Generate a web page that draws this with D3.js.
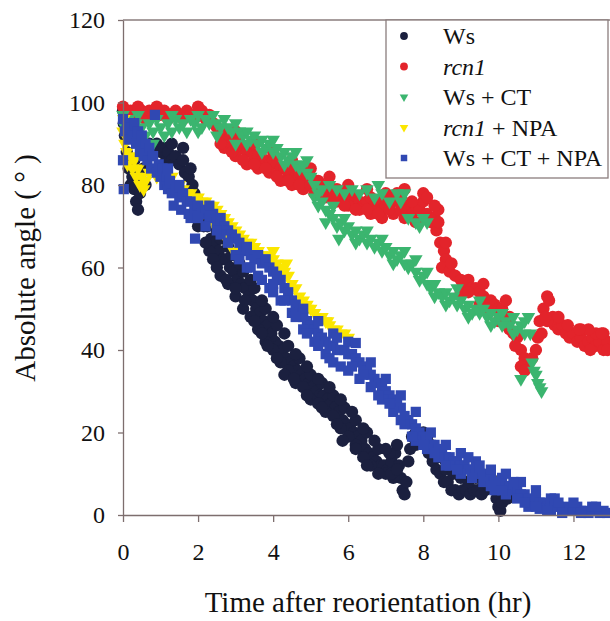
<!DOCTYPE html>
<html>
<head>
<meta charset="utf-8">
<script src="https://cdn.jsdelivr.net/npm/d3@7"></script>
<style>
    html, body { margin: 0; padding: 0; background: #fff; }
    svg, svg text { font-family: "Liberation Serif", "Times New Roman", serif; }
    svg { display: block; }
    .axis path, .axis line { stroke: #7d6e6e; stroke-width: 1.3; }
</style>
</head>
<body>
<svg id="chart" width="610" height="621"></svg>
<script>
/* ---------- Data (hours, degrees) ---------- */
const seriesNames = ["Ws", "rcn1", "Ws + CT", "rcn1 + NPA", "Ws + CT + NPA"];
const xTicks = [0, 2, 4, 6, 8, 10, 12];
const yTicks = [0, 20, 40, 60, 80, 100, 120];

const wsPoints = [
    [0.0,98],[0.02,95],[0.05,92],[0.1,88],[0.15,84],[0.2,80],[0.25,82],[0.3,86],[0.3,79],[0.35,76],
    [0.4,74],[0.45,78],[0.5,81],[0.55,84],[0.6,80],[0.65,87],[0.7,90],[0.8,88],[0.9,90],[1.0,88],
    [1.1,89],[1.15,86],[1.2,88],[1.3,86],[1.4,87],[1.5,85],[1.6,86],[1.65,83],[1.75,82],[1.85,80],
    [1.9,78],[2.0,76],[2.1,73],[2.15,70],[2.25,70],[2.35,67],[2.45,66],[2.55,64],[2.65,62],[2.75,62],
    [2.85,60],[2.95,59],[3.05,57],[3.15,56],[3.25,55],[3.35,53],[3.45,52],[3.55,50],[3.65,49],[3.75,47],
    [3.85,46],[3.95,44],[4.05,42],[4.15,41],[4.25,40],[4.35,38],[4.45,37],[4.55,36],[4.65,35],[4.75,34],
    [4.85,33],[4.95,32],[5.05,31],[5.15,30],[5.25,29],[5.35,29],[5.45,28],[5.55,27],[5.65,26],[5.75,25],
    [5.85,23],[5.95,22],[6.05,21],[6.15,20],[6.25,19],[6.35,18],[6.45,16],[6.55,15],[6.65,14],[6.75,13],
    [6.85,12],[6.95,12],[7.05,11],[7.15,13],[7.25,15],[7.3,17],[7.35,12],[7.4,9],[7.45,6],[7.5,5],
    [7.55,8],[7.6,13],[7.65,16],[7.7,19],[7.8,17],[7.9,19],[8.0,20],[8.1,19],[8.15,15],[8.25,13],
    [8.35,11],[8.45,10],[8.55,8],[8.65,8],[8.75,6],[8.85,6],[8.95,5],[9.05,6],[9.15,6],[9.25,5],
    [9.35,6],[9.45,6],[9.55,5],[9.65,6],[9.75,7],[9.85,7],[9.95,4],[10.0,2],[10.05,1],[10.1,3],
    [10.2,5],[10.25,4],
    [2.3,72],[2.6,67],[2.9,63],[3.2,59],[3.5,55],[3.8,50],[4.1,46],[4.4,41],[4.7,38],[5.0,34],
    [5.3,32],[5.6,29],[5.9,26],[6.2,23],[6.5,20],[6.8,16],[7.1,15],[7.0,10],[6.6,12],[6.2,17],
    [5.8,21],[5.4,25],[5.0,28],[4.6,32],[4.2,37],[3.8,42],[3.4,48],[3.0,53],[2.6,58],[2.3,64],
    [2.0,70],[2.4,62],[2.8,56],[3.2,50],[3.6,45],[4.0,40],[4.4,35],[4.8,31],[5.2,27],[5.6,24],
    [6.0,19],[6.4,14],[6.8,10],[7.2,9],[1.3,90],[1.6,89],[1.8,84],[0.55,88],[0.45,83],
    [8.6,11],[8.8,10],[9.0,9],[9.2,8],[9.4,9],[9.6,8],[9.8,9],
    [2.2,66],[2.5,60],[2.75,57],[3.0,55],[3.25,52],[3.5,47],[3.7,44],[3.85,41],[4.1,38],[4.3,34],
    [4.55,33],[4.9,29],[5.3,26],[5.7,22],[5.85,18],[6.2,16],[6.5,12],[2.5,69],[2.8,65],[3.1,61],
    [3.4,57],[3.7,52],[4.0,48],[4.3,44],[4.6,39],[4.9,36],[5.2,33],[5.5,31],[5.8,28],[6.1,25],
    [6.4,21],[6.7,18],[7.0,16],[7.15,10],[7.3,11],[7.8,20],[8.2,17],[8.4,14],[8.6,13]
];

const rcn1Points = [
    [0,99],[0.05,97],[0.1,96],[0.2,98],[0.3,97],[0.4,99],[0.5,98],[0.6,96],[0.7,98],[0.8,97],
    [0.9,99],[1.0,97],[1.1,98],[1.2,96],[1.3,97],[1.4,98],[1.5,97],[1.6,96],[1.7,98],[1.8,97],
    [1.9,96],[2.0,99],[2.1,98],[2.2,96],[2.3,97],[2.4,95],[2.5,94],[2.6,93],[2.7,92],[2.8,91],
    [2.9,90],[3.0,91],[3.1,89],[3.2,89],[3.3,88],[3.4,88],[3.5,87],[3.6,87],[3.7,86],[3.8,86],
    [3.9,85],[4.0,86],[4.1,85],[4.2,84],[4.3,84],[4.4,83],[4.5,84],[4.6,82],[4.7,83],[4.8,82],
    [4.9,81],[5.0,82],[5.1,80],[5.2,81],[5.3,80],[5.4,79],[5.5,80],[5.6,78],[5.7,79],[5.8,78],
    [5.9,77],[6.0,78],[6.1,76],[6.2,77],[6.3,76],[6.4,75],[6.5,76],[6.6,77],[6.7,75],[6.8,76],
    [6.9,74],[7.0,75],[7.1,77],[7.2,76],[7.3,78],[7.4,77],[7.5,75],[7.6,74],[7.7,73],[7.8,75],
    [7.9,74],[8.0,76],[8.1,73],[8.2,71],[8.3,72],[8.35,69],[8.45,66],[8.55,64],[8.6,62],[8.5,60],
    [8.7,59],[8.85,58],[9.0,57],[9.1,56],[9.2,57],[9.3,55],[9.4,55],[9.5,54],[9.6,53],[9.7,52],
    [9.8,52],[9.9,51],[10.0,50],[10.1,50],[10.2,46],[10.3,45],[10.4,44],[10.5,43],[10.6,40],[10.7,38],
    [10.8,37],[10.9,38],[11.0,40],[11.05,43],[11.1,47],[11.2,50],[11.3,53],[11.35,52],[11.45,48],[11.5,46],
    [11.6,45],[11.7,46],[11.8,44],[11.9,43],[12.0,44],[12.1,42],[12.2,43],[12.3,41],[12.4,42],[12.5,43],
    [12.6,41],[12.7,42],[12.8,40],[12.9,42],
    [2.7,89],[3.0,87],[3.3,85],[3.6,84],[3.9,83],[4.2,81],[4.5,80],[4.8,79],[5.1,78],[5.4,77],
    [5.7,76],[6.0,75],[6.3,74],[6.6,73],[6.9,72],[7.2,73],[7.5,72],[7.8,71],[8.4,74],[10.6,36],
    [11.3,47],[12.2,45],[12.6,44],[10.3,48],[9.5,51],
    [3.0,93],[3.5,90],[4.0,88],[4.5,86],[5.0,84],[5.5,82],[6.0,80],[6.5,79],[7.0,78],[7.5,79],
    [8.0,78],[8.3,75],[9.0,54],[9.6,56],[10.2,52],[12.4,45],[12.8,44],
    [2.6,90],[2.9,88],[3.2,86],[3.5,85],[3.8,84],[4.1,82],[4.4,81],[4.7,80],[5.0,80],[5.3,78],
    [5.6,77],[5.9,75],[6.2,74],[6.5,74],[6.8,73],[7.1,74],[7.4,74],[7.7,76],[8.1,77],[8.4,71],
    [8.6,66],[8.75,61],[9.2,54],[9.7,50],[10.0,47],[10.45,41],[10.7,35],[11.15,44],[11.25,48],[11.6,48],
    [11.85,46],[12.15,45],[12.45,40],[12.75,44],[12.9,40]
];

const wsCtPoints = [
    [0,97],[0.05,94],[0.1,92],[0.15,96],[0.25,93],[0.35,95],[0.5,94],[0.6,92],[0.7,95],[0.8,93],
    [0.9,96],[1.0,94],[1.1,92],[1.2,95],[1.3,93],[1.4,96],[1.5,94],[1.6,95],[1.7,93],[1.8,96],
    [1.9,95],[2.0,97],[2.1,94],[2.2,96],[2.3,95],[2.4,97],[2.5,95],[2.6,94],[2.7,96],[2.8,94],
    [2.9,93],[3.0,95],[3.1,93],[3.2,92],[3.3,93],[3.4,91],[3.5,92],[3.6,90],[3.7,91],[3.8,89],
    [3.9,90],[4.0,88],[4.1,89],[4.2,87],[4.3,88],[4.4,86],[4.5,87],[4.6,85],[4.7,84],[4.8,85],
    [4.9,83],[5.0,82],[5.1,80],[5.3,79],[5.5,80],[5.7,79],[5.9,78],[6.1,79],[6.3,78],[6.5,79],
    [6.7,77],[6.9,78],[7.1,76],[7.3,78],[7.4,76],[7.6,72],[7.8,71],[8.0,72],[8.1,71],
    [5.1,77],[5.2,75],[5.3,76],[5.4,74],[5.5,73],[5.6,72],[5.7,70],[5.75,67],[5.8,71],[5.9,69],
    [6.0,70],[6.1,68],[6.2,69],[6.3,67],[6.4,68],[6.5,66],[6.6,67],[6.7,65],[6.8,66],[6.9,64],
    [7.0,65],[7.1,63],[7.2,64],[7.3,62],[7.4,63],[7.5,61],[7.6,60],[7.7,61],[7.8,59],[7.9,57],
    [8.0,58],[8.1,56],[8.2,55],[8.3,56],[8.4,54],[8.5,53],[8.6,54],[8.7,52],[8.8,53],[8.9,51],
    [9.0,52],[9.1,50],[9.2,51],[9.3,49],[9.4,50],[9.5,49],[9.6,50],[9.7,48],[9.8,49],[9.9,47],
    [10.0,48],[10.1,49],[10.2,47],[10.3,46],[10.4,48],[10.5,45],[10.6,46],[10.7,47],[10.8,48],[10.85,44],
    [10.9,37],[10.95,35],[11.0,34],[11.05,32],[11.1,31],[11.15,30],[10.6,33],
    [0.4,97],[0.8,90],[1.3,97],[2.0,93],[2.5,92],[3.0,90],[3.3,90],[3.7,88],[4.0,91],[4.3,85],
    [4.6,88],[4.9,86],[5.2,78],[5.4,71],[5.6,75],[5.9,72],[6.2,66],[6.5,69],[6.9,67],[7.2,61],
    [7.5,64],[7.8,62],[8.1,59],[8.3,53],[8.6,51],[8.9,55],[9.2,48],[9.5,52],[9.8,46],[10.1,46],
    [10.4,44],[10.7,44],[7.5,78],[7.9,70],[6.8,80]
];

const rcn1NpaPoints = [
    [0,93],[0.02,96],[0.05,90],[0.1,88],[0.12,85],[0.15,92],[0.2,87],[0.25,84],[0.3,86],[0.35,82],
    [0.4,84],[0.45,80],[0.5,82],[0.55,79],[0.6,81],[0.7,83],[0.8,84],[0.9,82],[1.0,84],[1.1,82],
    [1.2,81],[1.3,82],[1.4,80],[1.5,80],[1.6,79],[1.7,78],[1.8,78],[1.9,77],[2.0,77],[2.1,76],
    [2.2,76],[2.3,75],[2.4,75],[2.5,74],[2.6,73],[2.7,72],[2.8,71],[2.9,70],[3.0,69],[3.1,68],
    [3.2,67],[3.3,66],[3.4,66],[3.5,65],[3.6,64],[3.7,63],[3.8,63],[3.9,62],[4.0,62],[4.1,61],
    [4.2,60],[4.3,59],[4.4,58],[4.5,56],[4.6,55],[4.7,53],[4.8,52],[4.9,51],[5.0,50],[5.1,49],
    [5.2,48],[5.3,48],[5.4,47],[5.5,46],[5.6,45],[5.7,45],[5.8,44],[5.9,44],[6.0,43],
    [2.45,70],[2.75,67],[2.95,64],[4.0,64],[4.35,61],[4.9,50],[5.45,47]
];

const wsCtNpaPoints = [
    [0,96],[0,86],[0.02,79],[0.05,93],[0.1,95],[0.15,91],[0.2,94],[0.25,92],[0.3,95],[0.35,90],
    [0.4,93],[0.45,88],[0.5,92],[0.55,87],[0.6,90],[0.65,86],[0.7,89],[0.75,84],[0.8,87],[0.85,97],
    [0.9,83],[0.95,85],[1.0,82],[1.05,84],[1.1,80],[1.15,82],[1.2,79],[1.25,81],[1.3,78],[1.35,75],
    [1.4,79],[1.5,77],[1.55,74],[1.6,78],[1.7,76],[1.75,73],[1.8,76],[1.9,74],[1.92,67],[2.0,75],
    [2.1,73],[2.2,74],[2.3,72],[2.4,73],[2.5,71],[2.6,72],[2.7,70],[2.8,69],[2.9,68],[3.0,67],
    [3.1,66],[3.2,64],[3.3,65],[3.4,63],[3.5,62],[3.6,63],[3.7,61],[3.8,62],[3.9,60],[4.0,59],
    [4.1,58],[4.2,57],[4.3,55],[4.4,54],[4.5,52],[4.6,51],[4.7,49],[4.8,48],[4.9,47],[5.0,46],
    [5.1,45],[5.2,44],[5.3,43],[5.4,42],[5.5,41],[5.6,41],[5.7,40],[5.8,40],[5.9,40],[6.0,39],
    [6.1,39],[6.2,38],[6.3,37],[6.4,36],[6.5,35],[6.6,34],[6.7,33],[6.8,32],[6.9,31],[7.0,30],
    [7.1,29],[7.2,28],[7.3,27],[7.4,26],[7.5,24],[7.6,23],[7.7,22],[7.8,21],[7.9,20],[8.0,19],
    [8.1,18],[8.2,17],[8.3,17],[8.4,16],[8.5,15],[8.6,14],[8.7,14],[8.8,13],[8.9,13],[9.0,12],
    [9.1,12],[9.2,11],[9.3,11],[9.4,10],[9.5,10],[9.6,10],[9.7,9],[9.8,9],[9.9,8],[10.0,8],
    [10.1,9],[10.2,7],[10.3,7],[10.4,6],[10.5,6],[10.6,5],[10.7,5],[10.8,4],[10.9,3],[11.0,4],
    [11.1,3],[11.2,3],[11.3,2],[11.4,4],[11.5,2],[11.6,2],[11.7,1],[11.8,2],[11.9,1],[12.0,1],
    [12.1,2],[12.2,1],[12.3,1],[12.4,0.5],[12.5,1],[12.6,1],[12.7,0.5],[12.8,1],[12.9,0.5],
    [2.2,70],[2.6,68],[3.0,63],[3.3,60],[3.6,58],[3.9,55],[4.0,54],[4.2,52],[4.5,49],[4.8,45],
    [5.1,42],[5.4,39],[5.6,37],[5.8,36],[6.0,35],[6.3,33],[6.6,31],[6.9,28],[7.2,25],[7.5,22],
    [7.8,18],[8.1,16],[8.4,14],[8.7,12],[9.0,10],[9.3,9],[9.6,8],[9.9,6],[10.2,5],[10.5,4],
    [10.8,2],[11.1,1.5],[11.4,1],[11.7,0.5],
    [4.8,50],[5.2,47],[5.6,44],[6.0,42],[6.2,41.7],[6.6,37],[7.0,33],[7.4,29],[7.8,25],[8.2,20],
    [8.6,17],[9.0,15],[9.4,13],[9.8,11],[10.2,10],[10.6,8],[11.0,6],[11.5,4],[12.0,3],[12.5,2],
    [1.2,84],[1.5,80],[1.8,72],[2.0,72],[2.3,75],[2.5,69],[2.8,66],[3.1,62],[3.4,60],[3.7,57],
    [4.0,56],[4.3,52],[4.6,48],[4.9,44],[5.2,41],[5.5,38],[5.7,43],[6.1,36],[6.4,34],[6.8,29],
    [7.1,27],[7.4,23],[7.7,19],[8.0,17],[8.3,15],[8.6,12],[8.9,11],[9.2,14],[9.5,12],[9.8,7],
    [10.1,6],[10.4,8],[10.7,3],[11.0,2],[11.3,1],[11.6,3],[12.2,0.5],[12.6,2]
];

/* ---------- Layout ---------- */
const svg = d3.select("#chart");
const plot = {left: 123, right: 611, top: 20, bottom: 515};
const serif = "'Liberation Serif', 'Times New Roman', serif";

const x = d3.scaleLinear().domain([0, 13]).range([plot.left, plot.right]);
const y = d3.scaleLinear().domain([0, 120]).range([plot.bottom, plot.top]);

const series = [
    {name: seriesNames[0], data: wsPoints, color: "#1b203f", symbol: d3.symbolCircle, size: 120, flip: false},
    {name: seriesNames[1], data: rcn1Points, color: "#e3242b", symbol: d3.symbolCircle, size: 120, flip: false},
    {name: seriesNames[2], data: wsCtPoints, color: "#3bb56f", symbol: d3.symbolTriangle, size: 80, flip: true},
    {name: seriesNames[3], data: rcn1NpaPoints, color: "#fbe600", symbol: d3.symbolTriangle, size: 80, flip: true},
    {name: seriesNames[4], data: wsCtNpaPoints, color: "#3048b2", symbol: d3.symbolSquare, size: 105, flip: false}
];

// frame top line
svg.append("line")
    .attr("x1", plot.left).attr("x2", plot.right)
    .attr("y1", plot.top).attr("y2", plot.top)
    .attr("stroke", "#8a7d7d").attr("stroke-width", 1.3);

/* ---------- Points ---------- */
series.forEach(s => {
    const path = d3.symbol().type(s.symbol).size(s.size)();
    svg.append("g")
        .selectAll("path")
        .data(s.data)
        .join("path")
        .attr("d", path)
        .attr("fill", s.color)
        .attr("transform", d => `translate(${x(d[0])},${y(d[1])})` + (s.flip ? " rotate(180)" : ""));
});

/* ---------- Axes ---------- */
const xAxis = svg.append("g")
    .attr("class", "axis")
    .attr("transform", `translate(0,${plot.bottom})`)
    .call(d3.axisBottom(x).tickValues(xTicks).tickSize(7).tickPadding(16).tickSizeOuter(0));
xAxis.selectAll(".tick text").attr("dy", "0.9em");

const yAxis = svg.append("g")
    .attr("class", "axis")
    .attr("transform", `translate(${plot.left},0)`)
    .call(d3.axisLeft(y).tickValues(yTicks).tickSize(5).tickPadding(13).tickSizeOuter(0));

[xAxis, yAxis].forEach(a => {
    a.attr("font-family", null).attr("font-size", null);
    a.selectAll(".tick text")
        .style("font-family", serif)
        .style("font-size", "24px")
        .attr("fill", "#111");
});

// axis titles
svg.append("text")
    .attr("x", 368).attr("y", 612)
    .attr("text-anchor", "middle")
    .style("font-family", serif)
    .attr("font-size", 29)
    .attr("fill", "#111")
    .text("Time after reorientation (hr)");

svg.append("text")
    .attr("transform", "translate(35,268) rotate(-90)")
    .attr("text-anchor", "middle")
    .style("font-family", serif)
    .attr("font-size", 29)
    .attr("fill", "#111")
    .text("Absolute angle ( ° )");

/* ---------- Legend ---------- */
const legend = svg.append("g").attr("transform", "translate(386,20)");
legend.append("rect")
    .attr("width", 222).attr("height", 158)
    .attr("fill", "#fff").attr("stroke", "#8a7d7d").attr("stroke-width", 1.3);

const row = legend.selectAll("g.row")
    .data(series)
    .join("g")
    .attr("class", "row")
    .attr("transform", (d, i) => `translate(0,${16 + i * 30.5})`);

row.append("path")
    .attr("d", d => d3.symbol().type(d.symbol).size(d.size * 0.4)())
    .attr("fill", d => d.color)
    .attr("transform", d => "translate(18,0)" + (d.flip ? " rotate(180)" : ""));

row.append("text")
    .attr("x", 57).attr("y", 8)
    .style("font-family", serif)
    .style("font-size", "24px")
    .attr("fill", "#111")
    .each(function (d) {
        const t = d3.select(this);
        if (d.name.startsWith("rcn1")) {
            t.append("tspan").attr("font-style", "italic").text("rcn1");
            t.append("tspan").text(d.name.slice(4));
        } else {
            t.text(d.name);
        }
    });
</script>
</body>
</html>
